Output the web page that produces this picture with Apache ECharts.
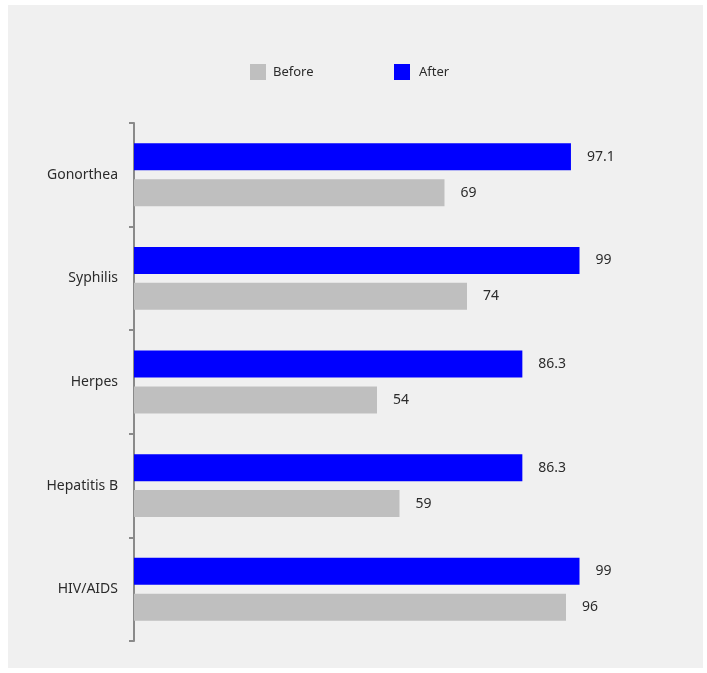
<!DOCTYPE html>
<html>
<head>
<meta charset="utf-8">
<title>STI awareness before and after</title>
<script src="https://cdn.jsdelivr.net/npm/echarts@6/dist/echarts.min.js"></script>
<style>
  html, body { margin: 0; padding: 0; background: #ffffff; }
  #panel { position: absolute; left: 8px; top: 5px; width: 695px; height: 663px; background: #f0f0f0; }
  #chart { position: absolute; left: 0; top: 0; width: 707px; height: 673px; }
</style>
</head>
<body>
<div id="panel"></div>
<div id="chart"></div>
<script>
// Diseases, top to bottom
const categories = ['Gonorthea', 'Syphilis', 'Herpes', 'Hepatitis B', 'HIV/AIDS'];
// Percentages before and after the intervention
const beforeValues = [69, 74, 54, 59, 96];
const afterValues = [97.1, 99, 86.3, 86.3, 99];

const FONT = '"Noto Sans", "Open Sans", sans-serif';
const TEXT = '#2b2b2b';

const chart = echarts.init(document.getElementById('chart'), null, { renderer: 'canvas' });

const labelStyle = {
  show: true,
  position: 'right',
  distance: 16,
  color: TEXT,
  fontSize: 14,
  fontFamily: FONT
};

chart.setOption({
  backgroundColor: 'transparent',
  animation: false,
  legend: [
    {
      data: ['Before'],
      left: 245, top: 59,
      itemWidth: 16, itemHeight: 16,
      icon: 'rect',
      textStyle: { color: TEXT, fontSize: 13, fontFamily: FONT, padding: [0, 0, 0, 2] }
    },
    {
      data: ['After'],
      left: 389, top: 59,
      itemWidth: 16, itemHeight: 16,
      icon: 'rect',
      textStyle: { color: TEXT, fontSize: 13, fontFamily: FONT, padding: [0, 0, 0, 4] }
    }
  ],
  grid: { left: 134, right: 123, top: 123, bottom: 32, containLabel: false },
  xAxis: {
    type: 'value',
    min: 0,
    max: 100,
    show: false,
    splitLine: { show: false }
  },
  yAxis: {
    type: 'category',
    data: categories,
    inverse: true,
    axisLine: { show: true, lineStyle: { color: '#8a8a8a', width: 2 } },
    axisTick: { show: true, length: 5, lineStyle: { color: '#8a8a8a', width: 2 } },
    axisLabel: { color: TEXT, fontSize: 14, fontFamily: FONT, margin: 16 }
  },
  // "After" is listed first so that, on the inverted axis, it sits above "Before"
  series: [
    {
      name: 'After',
      type: 'bar',
      data: afterValues,
      barWidth: 27,
      barGap: '33%',
      itemStyle: { color: '#0000ff' },
      label: labelStyle
    },
    {
      name: 'Before',
      type: 'bar',
      data: beforeValues,
      barWidth: 27,
      barGap: '33%',
      itemStyle: { color: '#bfbfbf' },
      label: labelStyle
    }
  ]
});
</script>
</body>
</html>
